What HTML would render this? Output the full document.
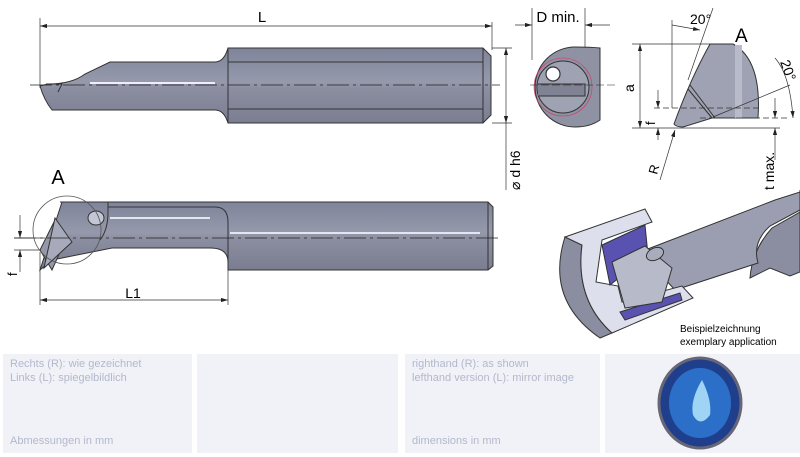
<!DOCTYPE html>
<html><head><meta charset="utf-8"><style>
body{margin:0;width:800px;height:457px;background:#fff;overflow:hidden;position:relative;font-family:"Liberation Sans",sans-serif}
.p{position:absolute;top:354px;height:99px;background:#f0f2f7;color:#b3b8cc;font-size:11px;line-height:14px}
.p div{position:absolute;left:7px}
</style></head><body>
<div class="p" style="left:3px;width:189px"><div style="top:3px">Rechts (R): wie gezeichnet<br>Links (L): spiegelbildlich</div><div style="top:80px">Abmessungen in mm</div></div>
<div class="p" style="left:197px;width:201px"></div>
<div class="p" style="left:405px;width:195px"><div style="top:3px">righthand (R): as shown<br>lefthand version (L): mirror image</div><div style="top:80px">dimensions in mm</div></div>
<div class="p" style="left:605px;width:195px"></div>
<svg width="800" height="457" style="position:absolute;left:0;top:0" font-family="Liberation Sans, sans-serif">
<defs>
<linearGradient id="g" x1="0" y1="0" x2="0" y2="1"><stop offset="0" stop-color="#80849a"/><stop offset=".45" stop-color="#9599ab"/><stop offset=".55" stop-color="#8a8ea0"/><stop offset="1" stop-color="#7a7e90"/></linearGradient>
<marker id="a" viewBox="0 0 10 6" refX="10" refY="3" markerWidth="10" markerHeight="6" orient="auto-start-reverse"><path d="M0 0L10 3L0 6z" fill="#222"/></marker>
</defs>
<g stroke="#333" stroke-width="0.7" fill="none">
<line x1="40" y1="18" x2="40" y2="88"/><line x1="492" y1="22" x2="492" y2="50"/>
<line x1="40" y1="26" x2="492" y2="26" marker-start="url(#a)" marker-end="url(#a)"/>
<line x1="492" y1="48" x2="512" y2="48"/><line x1="492" y1="123" x2="512" y2="123"/>
<line x1="506" y1="48" x2="506" y2="123" marker-start="url(#a)" marker-end="url(#a)"/>
<line x1="506" y1="123" x2="506" y2="190"/>
<line x1="40" y1="252" x2="40" y2="305"/><line x1="228" y1="270" x2="228" y2="305"/>
<line x1="40" y1="300" x2="228" y2="300" marker-start="url(#a)" marker-end="url(#a)"/>
<line x1="14" y1="238" x2="45" y2="238"/><line x1="14" y1="250" x2="45" y2="250"/>
<line x1="20" y1="215" x2="20" y2="238" marker-end="url(#a)"/><line x1="20" y1="272" x2="20" y2="250" marker-end="url(#a)"/>
</g>
<text x="262" y="22" font-size="15" text-anchor="middle">L</text>
<text x="133" y="298" font-size="14" text-anchor="middle">L1</text>
<text x="58" y="184" font-size="20" text-anchor="middle">A</text>
<text transform="translate(520,190) rotate(-90)" font-size="14">⌀ d h6</text>
<text transform="translate(17,276) rotate(-90)" font-size="13">f</text>
<path d="M40 86L48 84Q72 84 85 74L110 62H215Q224 62 228 48V123Q224 110 215 110H52Q44 100 40 86Z" fill="url(#g)" stroke="#333"/>
<path d="M228 48H483L491 56V115L483 123H228Z" fill="url(#g)" stroke="#333" stroke-width="1"/>
<line x1="228" y1="62" x2="483" y2="62" stroke="#333"/><line x1="228" y1="109" x2="483" y2="109" stroke="#333"/>
<line x1="483" y1="48" x2="483" y2="123" stroke="#333"/>
<path d="M46 84L62 84L58 92" fill="none" stroke="#333"/>
<line x1="90" y1="83" x2="215" y2="83" stroke="#eef" stroke-width="2"/>
<line x1="30" y1="85" x2="500" y2="85" stroke="#222" stroke-width=".7" stroke-dasharray="22 4 3 4"/>
<path d="M60 202H488L493 207V266L488 270H228V262Q228 248 210 248H112L52 260L40 270L62 202Z" fill="url(#g)" stroke="#333" stroke-width="1"/>
<path d="M55 220L40 250L52 270L60 252Z" fill="#9498a8" stroke="#333"/>
<path d="M55 218L72 242L44 268Z" fill="#a7aaba" stroke="#333"/>
<path d="M108 202V212Q108 230 100 240" fill="none" stroke="#333"/>
<ellipse cx="96" cy="218" rx="8" ry="7" fill="#c3c6d4" stroke="#333"/>
<path d="M108 207H215Q228 207 228 222V262" fill="none" stroke="#333"/>
<line x1="488" y1="202" x2="488" y2="270" stroke="#333"/>
<line x1="110" y1="218" x2="210" y2="218" stroke="#e4e6ef" stroke-width="2"/>
<line x1="230" y1="233" x2="480" y2="233" stroke="#e4e6ef" stroke-width="2"/>
<line x1="14" y1="238" x2="500" y2="238" stroke="#222" stroke-width=".7" stroke-dasharray="22 4 3 4"/>
<circle cx="67" cy="230" r="34" fill="none" stroke="#555" stroke-width=".8"/>
<g stroke="#333" stroke-width=".7" fill="none">
<line x1="532" y1="8" x2="532" y2="60"/><line x1="585" y1="8" x2="585" y2="120"/>
<line x1="515" y1="25" x2="532" y2="25" marker-end="url(#a)"/><line x1="610" y1="25" x2="585" y2="25" marker-end="url(#a)"/>
</g>
<text x="558" y="22" font-size="15" text-anchor="middle">D min.</text>
<path d="M600 48V120Q590 127 575 127A40 40 0 0 1 575 47Q590 47 600 48Z" fill="#8e92a2" stroke="#333"/>
<circle cx="563" cy="87" r="26" fill="#9ea2b2" stroke="#333"/>
<circle cx="563" cy="87" r="29" fill="none" stroke="#d36" stroke-width=".6"/>
<path d="M538 84H585V96H538" fill="#7f8394" stroke="#333"/>
<circle cx="553" cy="74" r="7" fill="#fff" stroke="#333" stroke-width="1.2"/>
<line x1="530" y1="85" x2="615" y2="85" stroke="#222" stroke-width=".6" stroke-dasharray="8 3"/>
<path d="M710 44H733Q762 60 758 118H712L683 127Q676 127 674 124Q690 80 710 44Z" fill="#9ea2b2" stroke="#333"/>
<path d="M688 89L712 118" stroke="#333" fill="none"/><path d="M690 85L715 118" stroke="#333" fill="none"/>
<rect x="735" y="45" width="7" height="73" fill="#b8bbc9"/>
<g stroke="#333" stroke-width=".7" fill="none">
<line x1="632" y1="44" x2="710" y2="44"/><line x1="632" y1="128" x2="780" y2="128"/>
<line x1="640" y1="44" x2="640" y2="128" marker-start="url(#a)" marker-end="url(#a)"/>
<line x1="654" y1="108" x2="760" y2="108" stroke-dasharray="6 3"/>
<line x1="658" y1="90" x2="658" y2="108" marker-end="url(#a)"/><line x1="658" y1="140" x2="658" y2="128" marker-end="url(#a)"/>
<line x1="672" y1="20" x2="672" y2="108"/>
<line x1="672" y1="25" x2="700" y2="30" marker-end="url(#a)"/>
<line x1="713" y1="8" x2="688" y2="80"/>
<line x1="660" y1="180" x2="675" y2="130" marker-end="url(#a)"/>
<line x1="713" y1="117" x2="790" y2="85"/>
<line x1="775" y1="98" x2="775" y2="118" marker-end="url(#a)"/><line x1="775" y1="160" x2="775" y2="128" marker-end="url(#a)"/>
<line x1="700" y1="118" x2="790" y2="118" stroke-dasharray="6 3"/>
<path d="M775 58Q790 75 793 118" marker-end="url(#a)"/>
</g>
<text x="690" y="24" font-size="14">20°</text>
<text x="735" y="42" font-size="19">A</text>
<text transform="translate(634,92) rotate(-90)" font-size="14">a</text>
<text transform="translate(655,125) rotate(-90)" font-size="13">f</text>
<text transform="translate(657,175) rotate(-75)" font-size="13">R</text>
<text transform="translate(774,190) rotate(-90)" font-size="14">t max.</text>
<text transform="translate(780,62) rotate(70)" font-size="14">20°</text>
<path d="M800 190V272L790 276L770 268L750 278Q752 250 772 228L800 212Z" fill="#8a8ea0" stroke="#333"/>
<path d="M640 252L775 200L800 192V210L770 226Q752 242 758 263L675 290Z" fill="#9a9eb0" stroke="#333"/>
<path d="M565 237Q545 300 600 338L612 333Q575 300 582 245Z" fill="#8a8ea0" stroke="#333"/>
<path d="M565 237L645 209L652 222L602 240L596 282L618 286L622 302L682 286L693 298L612 333Q575 300 582 245Z" fill="#dde0ec" stroke="#333"/>
<path d="M602 245L645 225L648 255L610 285Z" fill="#5a52b0" stroke="#333"/>
<path d="M620 312L680 293L682 300L625 320Z" fill="#5a52b0" stroke="#333"/>
<path d="M612 262L645 246L672 268L662 302L625 308Z" fill="#b7bac8" stroke="#333"/>
<ellipse cx="655" cy="254" rx="9" ry="6" fill="#a9acbc" stroke="#333" transform="rotate(-25 655 254)"/>
<text x="680" y="332" font-size="10">Beispielzeichnung</text>
<text x="680" y="345" font-size="10">exemplary application</text>
<ellipse cx="700" cy="403" rx="41" ry="45" fill="#1f3f8c" stroke="#667" stroke-width="3"/>
<ellipse cx="700" cy="403" rx="31" ry="35" fill="#2c6fc8"/>
<path d="M702 380Q690 400 693 415Q700 428 710 415Q712 400 702 380Z" fill="#9fd4f5"/>
</svg>
</body></html>
